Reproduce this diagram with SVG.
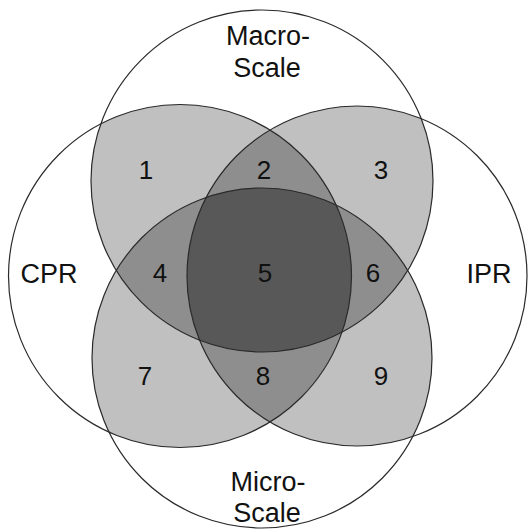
<svg xmlns="http://www.w3.org/2000/svg" xmlns:xlink="http://www.w3.org/1999/xlink" width="528" height="530" viewBox="0 0 528 530">
<style>
.lbl{font-family:"Liberation Sans",Arial,sans-serif;font-size:27px;fill:#111;text-anchor:middle}
.num{font-family:"Liberation Sans",Arial,sans-serif;font-size:26px;fill:#111;text-anchor:middle}
.outline{fill:none;stroke:#2a2a2a;stroke-width:1.2}
.l2{fill:#c0c0c0}.l3{fill:#8e8e8e}.l4{fill:#585858}
</style>
<defs>
<circle id="T" cx="262" cy="181" r="171"/>
<circle id="B" cx="262" cy="358" r="170"/>
<circle id="L" cx="180" cy="276" r="171.5"/>
<circle id="R" cx="357" cy="276" r="170"/>
<clipPath id="cT"><use xlink:href="#T"/></clipPath>
<clipPath id="cB"><use xlink:href="#B"/></clipPath>
<clipPath id="cL"><use xlink:href="#L"/></clipPath>
<clipPath id="cR"><use xlink:href="#R"/></clipPath>
</defs>
<rect width="528" height="530" fill="#fff"/>
<g id="regions">
<g clip-path="url(#cT)"><use xlink:href="#L" class="l2"/><use xlink:href="#R" class="l2"/></g>
<g clip-path="url(#cB)"><use xlink:href="#L" class="l2"/><use xlink:href="#R" class="l2"/></g>
<g clip-path="url(#cT)">
<g clip-path="url(#cL)"><use xlink:href="#R" class="l3"/><use xlink:href="#B" class="l3"/></g>
<g clip-path="url(#cR)"><use xlink:href="#B" class="l3"/></g>
</g>
<g clip-path="url(#cB)"><g clip-path="url(#cL)"><use xlink:href="#R" class="l3"/></g></g>
<g clip-path="url(#cT)"><g clip-path="url(#cL)"><g clip-path="url(#cR)"><use xlink:href="#B" class="l4"/></g></g></g>
</g>
<g id="macro-scale"><use xlink:href="#T" class="outline"/><text class="lbl" x="268" y="45">Macro-</text><text class="lbl" x="267" y="77">Scale</text></g>
<g id="micro-scale"><use xlink:href="#B" class="outline"/><text class="lbl" x="268" y="491">Micro-</text><text class="lbl" x="267" y="522">Scale</text></g>
<g id="cpr"><use xlink:href="#L" class="outline"/><text class="lbl" x="49" y="283">CPR</text></g>
<g id="ipr"><use xlink:href="#R" class="outline"/><text class="lbl" x="489" y="283">IPR</text></g>
<g id="numbers">
<text class="num" x="146" y="179">1</text>
<text class="num" x="264" y="179">2</text>
<text class="num" x="381" y="179">3</text>
<text class="num" x="160" y="282">4</text>
<text class="num" x="265" y="282">5</text>
<text class="num" x="373" y="282">6</text>
<text class="num" x="145" y="385">7</text>
<text class="num" x="263" y="385">8</text>
<text class="num" x="381" y="385">9</text>
</g>
<g id="connectors"/>
</svg>
